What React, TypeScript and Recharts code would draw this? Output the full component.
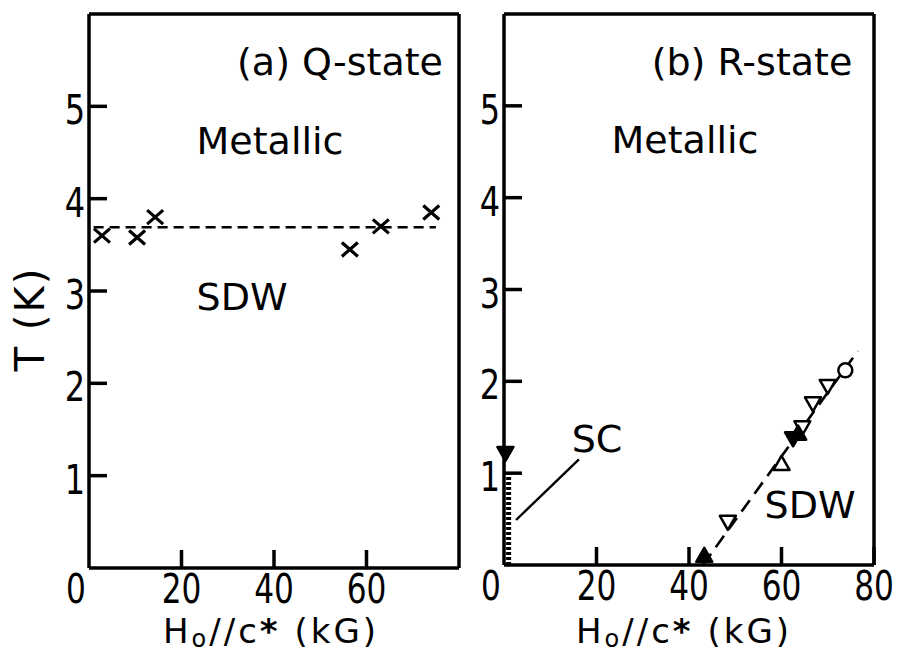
import React from 'react';
import {
  ComposedChart,
  XAxis,
  YAxis,
  Scatter,
  Line,
  ReferenceLine,
  Customized,
} from 'recharts';

// (a) Q-state: transition temperatures vs field
const qCrosses = [
  { h: 2.8, t: 3.6 },
  { h: 10.4, t: 3.58 },
  { h: 14.3, t: 3.8 },
  { h: 56.4, t: 3.45 },
  { h: 63.1, t: 3.7 },
  { h: 74.0, t: 3.85 },
];
const qBoundary = [
  { h: 1, t: 3.69 },
  { h: 75, t: 3.69 },
];

// (b) R-state
const rOpenDown = [
  { h: 48.4, t: 0.47 },
  { h: 64.5, t: 1.5 },
  { h: 66.8, t: 1.76 },
  { h: 70.0, t: 1.95 },
];
const rOpenUp = [{ h: 60.0, t: 1.1 }];
const rFilledDown = [
  { h: 0.3, t: 1.22 },
  { h: 62.5, t: 1.38 },
];
const rFilledUp = [
  { h: 43.3, t: 0.1 },
  { h: 63.6, t: 1.43 },
];
const rCircle = [{ h: 73.8, t: 2.12 }];
const rBoundary = [
  { h: 43, t: 0 },
  { h: 76.5, t: 2.33 },
];
const scLine = [
  { h: 1.0, t: 0 },
  { h: 1.0, t: 1.0 },
];
const scPointer = [
  { x: 2.6, y: 0.49 },
  { x: 16.2, y: 1.15 },
];

const yTicks = [1, 2, 3, 4, 5];
const xTicksA = [0, 20, 40, 60];
const xTicksB = [0, 20, 40, 60, 80];
const xTopTicks = [20, 40, 60];

const FONT = "'DejaVu Sans', sans-serif";
const INK = '#000';
const TICK = 18;
const RULE = 3.5;

// narrow digits like the original lettering
const Narrow = ({ x, y, anchor, size, children }: any) => (
  <text
    transform={`translate(${x},${y}) scale(0.78,1)`}
    textAnchor={anchor}
    fontFamily={FONT}
    fontSize={size}
    fill={INK}
  >
    {children}
  </text>
);

const LeftTick = (props: any) => {
  const { x, y, payload } = props;
  return (
    <g>
      <line x1={x} y1={y} x2={x + TICK} y2={y} stroke={INK} strokeWidth={RULE} />
      <Narrow x={x - 4} y={y + 18} anchor="end" size={41}>
        {payload.value}
      </Narrow>
    </g>
  );
};

const RightTick = (props: any) => {
  const { x, y } = props;
  return <line x1={x - TICK} y1={y} x2={x} y2={y} stroke={INK} strokeWidth={RULE} />;
};

const TopTick = (props: any) => {
  const { x, y } = props;
  return <line x1={x} y1={y} x2={x} y2={y + TICK} stroke={INK} strokeWidth={RULE} />;
};

const BottomTick = (props: any) => {
  const { x, y, payload } = props;
  const shift = payload.value === 0 ? -13 : 0;
  return (
    <g>
      {payload.value !== 0 && (
        <line x1={x} y1={y - TICK} x2={x} y2={y} stroke={INK} strokeWidth={RULE} />
      )}
      <Narrow x={x + shift} y={y + 35} anchor="middle" size={40}>
        {payload.value}
      </Narrow>
    </g>
  );
};

const Cross = (props: any) => {
  const { cx, cy } = props;
  return (
    <path
      d={`M${cx - 8},${cy - 7}L${cx + 8},${cy + 7}M${cx - 8},${cy + 7}L${cx + 8},${cy - 7}`}
      stroke={INK}
      strokeWidth={3.2}
    />
  );
};

const triDown = (filled: boolean) => (props: any) => {
  const { cx, cy } = props;
  return (
    <path
      d={`M${cx - 8},${cy - 6}L${cx + 8},${cy - 6}L${cx},${cy + 8}Z`}
      fill={filled ? INK : '#fff'}
      stroke={INK}
      strokeWidth={2.5}
      strokeLinejoin="round"
    />
  );
};

const triUp = (filled: boolean) => (props: any) => {
  const { cx, cy } = props;
  return (
    <path
      d={`M${cx - 8},${cy + 6}L${cx + 8},${cy + 6}L${cx},${cy - 8}Z`}
      fill={filled ? INK : '#fff'}
      stroke={INK}
      strokeWidth={2.5}
      strokeLinejoin="round"
    />
  );
};

const OpenCircle = (props: any) => {
  const { cx, cy } = props;
  return <circle cx={cx} cy={cy} r={7} fill="#fff" stroke={INK} strokeWidth={2.5} />;
};

const XTitle = ({ cx }: { cx: number }) => (
  <text
    x={cx}
    y={643}
    textAnchor="middle"
    fontFamily={FONT}
    fontSize={34}
    letterSpacing={3}
    fill={INK}
  >
    <tspan>H</tspan>
    <tspan fontSize={24} dy={4}>o</tspan>
    <tspan dy={-4}>//</tspan>
    <tspan>c</tspan>
    <tspan fontWeight="bold">*</tspan>
    <tspan> (kG)</tspan>
  </text>
);

const label = (x: number, y: number, s: string) => (
  <text x={x} y={y} textAnchor="middle" fontFamily={FONT} fontSize={38} fill={INK}>
    {s}
  </text>
);

const frameAxes = (xTicks: number[]) => [
  <XAxis
    key="xb"
    xAxisId={0}
    dataKey="h"
    type="number"
    domain={[0, 80]}
    ticks={xTicks}
    interval={0}
    height={1}
    tickSize={0}
    tickMargin={0}
    tickLine={false}
    axisLine={{ stroke: INK, strokeWidth: RULE }}
    tick={<BottomTick />}
  />,
  <XAxis
    key="xt"
    xAxisId="top"
    orientation="top"
    type="number"
    domain={[0, 80]}
    ticks={xTopTicks}
    interval={0}
    height={1}
    tickSize={0}
    tickMargin={0}
    tickLine={false}
    axisLine={{ stroke: INK, strokeWidth: RULE }}
    tick={<TopTick />}
  />,
  <YAxis
    key="yl"
    yAxisId={0}
    dataKey="t"
    type="number"
    domain={[0, 6]}
    ticks={yTicks}
    interval={0}
    width={1}
    tickSize={0}
    tickMargin={0}
    tickLine={false}
    axisLine={{ stroke: INK, strokeWidth: RULE }}
    tick={<LeftTick />}
  />,
  <YAxis
    key="yr"
    yAxisId="right"
    orientation="right"
    type="number"
    domain={[0, 6]}
    ticks={yTicks}
    interval={0}
    width={1}
    tickSize={0}
    tickMargin={0}
    tickLine={false}
    axisLine={{ stroke: INK, strokeWidth: RULE }}
    tick={<RightTick />}
  />,
];

const App: React.FC = () => {
  return (
    <div
      style={{
        position: 'absolute',
        left: 0,
        top: 0,
        width: 898,
        height: 655,
        background: '#fff',
      }}
    >
      <div style={{ position: 'absolute', left: 0, top: 0 }}>
        <ComposedChart width={470} height={655} margin={{ top: 13, left: 88, right: 10, bottom: 86 }}>
          {frameAxes(xTicksA)}
          <Line
            data={qBoundary}
            dataKey="t"
            stroke={INK}
            strokeWidth={2.6}
            strokeDasharray="10 6"
            dot={false}
            isAnimationActive={false}
          />
          <Scatter data={qCrosses} shape={<Cross />} isAnimationActive={false} />
          <Customized
            component={() => (
              <g>
                {label(340, 75, '(a) Q-state')}
                {label(270, 154, 'Metallic')}
                {label(242, 310, 'SDW')}
                <XTitle cx={271} />
                <text
                  transform="translate(44,319) rotate(-90)"
                  textAnchor="middle"
                  fontFamily={FONT}
                  fontSize={40}
                  letterSpacing={2}
                  fill={INK}
                >
                  T (K)
                </text>
              </g>
            )}
          />
        </ComposedChart>
      </div>
      <div style={{ position: 'absolute', left: 470, top: 0 }}>
        <ComposedChart width={428} height={655} margin={{ top: 13, left: 33, right: 23, bottom: 89 }}>
          {frameAxes(xTicksB)}
          <Line
            data={rBoundary}
            dataKey="t"
            stroke={INK}
            strokeWidth={2.6}
            strokeDasharray="14 8"
            dot={false}
            isAnimationActive={false}
          />
          <Line
            data={scLine}
            dataKey="t"
            stroke={INK}
            strokeWidth={5}
            strokeDasharray="3 2"
            dot={false}
            isAnimationActive={false}
          />
          <ReferenceLine segment={scPointer} stroke={INK} strokeWidth={2.4} ifOverflow="visible" />
          <Scatter data={rOpenDown} shape={triDown(false)} isAnimationActive={false} />
          <Scatter data={rOpenUp} shape={triUp(false)} isAnimationActive={false} />
          <Scatter data={rFilledDown} shape={triDown(true)} isAnimationActive={false} />
          <Scatter data={rFilledUp} shape={triUp(true)} isAnimationActive={false} />
          <Scatter data={rCircle} shape={<OpenCircle />} isAnimationActive={false} />
          <Customized
            component={() => (
              <g>
                {label(282, 75, '(b) R-state')}
                {label(215, 153, 'Metallic')}
                {label(127, 452, 'SC')}
                {label(340, 518, 'SDW')}
                <XTitle cx={214} />
              </g>
            )}
          />
        </ComposedChart>
      </div>
    </div>
  );
};

export default App;
